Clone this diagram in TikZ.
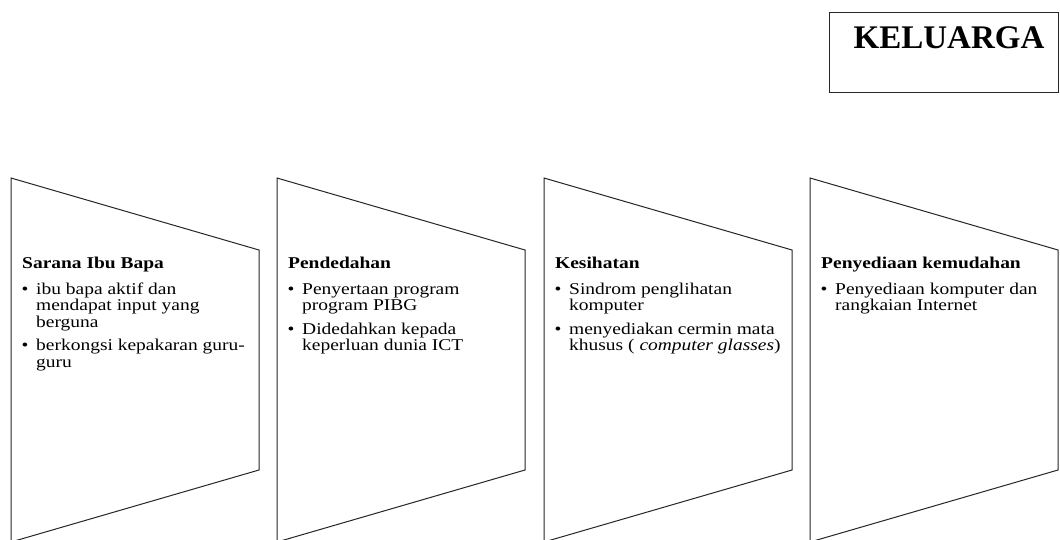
\documentclass[tikz,border=0pt]{standalone}
\usepackage{fontspec}
\setmainfont{Liberation Serif}
\newfontfamily\bodyfont[FakeStretch=1.18]{Liberation Serif}
\begin{document}
\begin{tikzpicture}[x=1pt,y=-1pt,
  shp/.style={draw=black!85, line width=1pt, line join=miter},
  txt/.style={anchor=base west, inner sep=0pt, font={\bodyfont\fontsize{16.5}{16.5}\selectfont}},
  hd/.style={txt, font={\bodyfont\fontsize{16.5}{16.5}\selectfont\bfseries}},
  bul/.style={anchor=base, inner sep=0pt, font={\bodyfont\fontsize{16.5}{16.5}\selectfont}},
  title/.style={inner sep=0pt, anchor=base, font={\fontsize{33}{33}\selectfont\bfseries}}]
\useasboundingbox (0,0) rectangle (1060,539);
\clip (0,0) rectangle (1060,539);
\fill[white] (0,0) rectangle (1060,539);
% title box
\draw[shp] (829,12) rectangle (1058.5,92);
\node[title] (tt) at (949,48) {KELUARGA};
% chevron shapes
\foreach \L in {11,277,544,810}{
  \draw[shp] (\L,178) -- (\L+248,250) -- (\L+248,470) -- (\L,542) -- cycle;
}
% box 1
\node[hd] (h1) at (22,268.5) {Sarana Ibu Bapa};
\node[bul] (b11) at (25,294) {•};
\node[txt] (l11) at (36,294) {ibu bapa aktif dan};
\node[txt] (l12) at (36,310.5) {mendapat input yang};
\node[txt] (l13) at (36,327) {berguna};
\node[bul] (b12) at (25,350.5) {•};
\node[txt] (l14) at (36,350.5) {berkongsi kepakaran guru-};
\node[txt] (l15) at (36,367) {guru};
% box 2
\node[hd] (h2) at (288,268.5) {Pendedahan};
\node[bul] (b21) at (291,294) {•};
\node[txt] (l21) at (302,294) {Penyertaan program};
\node[txt] (l22) at (302,310.5) {program PIBG};
\node[bul] (b22) at (291,334) {•};
\node[txt] (l23) at (302,334) {Didedahkan kepada};
\node[txt] (l24) at (302,350.5) {keperluan dunia ICT};
% box 3
\node[hd] (h3) at (555,268.5) {Kesihatan};
\node[bul] (b31) at (558,294) {•};
\node[txt] (l31) at (569,294) {Sindrom penglihatan};
\node[txt] (l32) at (569,310.5) {komputer};
\node[bul] (b32) at (558,334) {•};
\node[txt] (l33) at (569,334) {menyediakan cermin mata};
\node[txt] (l34) at (569,350.5) {khusus ( \textit{computer glasses})};
% box 4
\node[hd] (h4) at (821,268.5) {Penyediaan kemudahan};
\node[bul] (b41) at (824,294) {•};
\node[txt] (l41) at (835,294) {Penyediaan komputer dan};
\node[txt] (l42) at (835,310.5) {rangkaian Internet};
\end{tikzpicture}
\end{document}
